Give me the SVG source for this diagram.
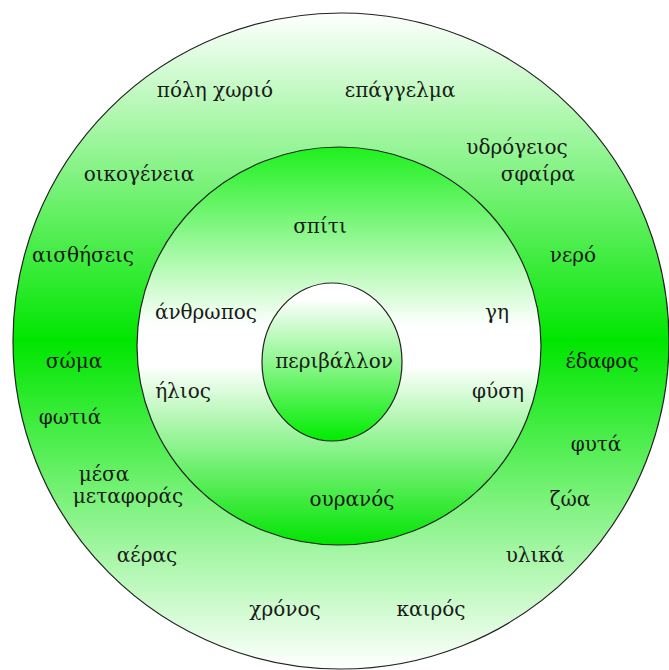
<svg xmlns="http://www.w3.org/2000/svg" width="669" height="670" viewBox="0 0 669 670">
<defs>
<linearGradient id="gOuter" x1="0" y1="0" x2="0" y2="1">
<stop offset="0" stop-color="#ffffff"/>
<stop offset="0.5" stop-color="#00e600"/>
<stop offset="1" stop-color="#ffffff"/>
</linearGradient>
<linearGradient id="gMid" x1="0" y1="0" x2="0" y2="1">
<stop offset="0" stop-color="#1ef01e"/>
<stop offset="0.45" stop-color="#ffffff"/>
<stop offset="0.55" stop-color="#ffffff"/>
<stop offset="1" stop-color="#00e400"/>
</linearGradient>
<linearGradient id="gInner" x1="0" y1="0" x2="0" y2="1">
<stop offset="0.1" stop-color="#ffffff"/>
<stop offset="1" stop-color="#00ec00"/>
</linearGradient>
</defs>
<style>
.ring{stroke:#222;stroke-width:1.2}
text{font-size:20px;fill:#1a1a1a;text-anchor:middle}
</style>
<rect width="669" height="670" fill="#ffffff"/>
<g font-family="'DejaVu Serif', 'Liberation Serif', serif" font-size="18">
<g id="outer">
<circle class="ring" cx="341" cy="341" r="328" fill="url(#gOuter)"/>
<text x="215" y="97">πόλη χωριό</text>
<text x="400" y="97">επάγγελμα</text>
<text x="517" y="154">υδρόγειος</text>
<text x="538" y="181">σφαίρα</text>
<text x="139" y="181">οικογένεια</text>
<text x="83" y="262">αισθήσεις</text>
<text x="573" y="262">νερό</text>
<text x="74" y="368">σώμα</text>
<text x="602" y="368">έδαφος</text>
<text x="70" y="424">φωτιά</text>
<text x="596" y="451">φυτά</text>
<text x="104" y="481">μέσα</text>
<text x="128" y="503">μεταφοράς</text>
<text x="570" y="506">ζώα</text>
<text x="147" y="562">αέρας</text>
<text x="535" y="562">υλικά</text>
<text x="285" y="616">χρόνος</text>
<text x="431" y="616">καιρός</text>
</g>
<g id="middle">
<ellipse class="ring" cx="339" cy="346" rx="202" ry="199" fill="url(#gMid)"/>
<text x="320" y="233">σπίτι</text>
<text x="206" y="319">άνθρωπος</text>
<text x="497" y="319">γη</text>
<text x="183" y="398">ήλιος</text>
<text x="498" y="398">φύση</text>
<text x="352" y="506">ουρανός</text>
</g>
<g id="inner">
<ellipse class="ring" cx="332" cy="362" rx="70" ry="79" fill="url(#gInner)"/>
<text x="334" y="368">περιβάλλον</text>
</g>
</g>
<g id="connectors"/>
</svg>
